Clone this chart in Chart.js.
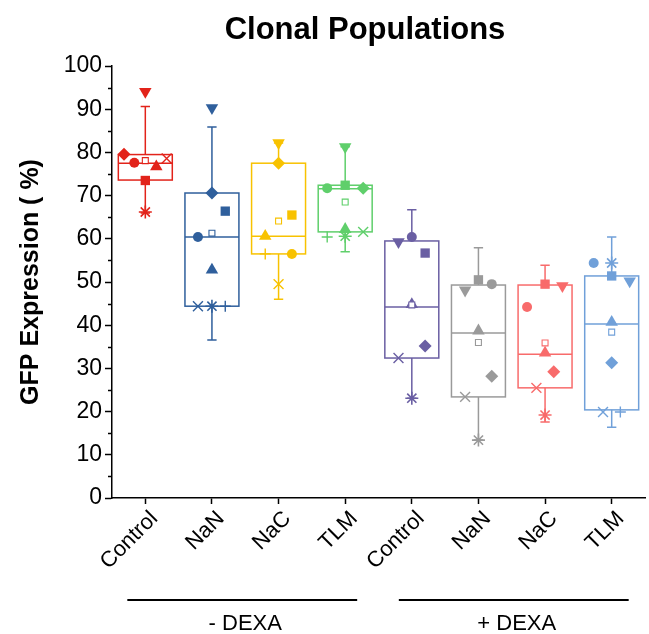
<!DOCTYPE html>
<html><head><meta charset="utf-8">
<script src="https://cdn.jsdelivr.net/npm/chart.js@4"></script>
<style>html,body{margin:0;padding:0;background:#fff}#wrap{width:649px;height:634px;position:relative}</style>
</head><body><div id="wrap"><canvas id="c"></canvas></div>
<script>
// ---------- data ----------
const categories = ['Control','NaN','NaC','TLM','Control','NaN','NaC','TLM'];
const groupLabels = ['- DEXA','+ DEXA'];
const groupFirst = [0,4];
const groupLast = [3,7];
const chartTitle = 'Clonal Populations';
const yTitle = 'GFP Expression ( %)';
const yMin = 0, yMax = 100, yStep = 10;

// box statistics per category
const q1          = [73.6,44.4,56.5,61.6,32.4,23.4,25.5,20.4];
const median      = [77.5,60.4,60.6,71.6,44.2,38.2,33.3,40.3];
const q3          = [79.5,70.6,77.5,72.4,59.5,49.3,49.3,51.4];
const whiskerLow  = [66.0,36.6,46.0,57.0,23.1,13.4,17.6,16.4];
const whiskerHigh = [90.6,85.9,82.2,81.3,66.7,57.9,53.9,60.4];
const meanValue   = [78.1,61.3,64.1,68.5,44.7,36.0,35.9,38.4];

// individual clones (one marker each) per category
const cloneSquare  = [73.5,66.4,65.5,72.4,56.7,50.5,49.5,51.4];
const cloneCircle  = [77.6,60.4,56.5,71.7,60.4,49.5,44.2,54.4];
const cloneUp      = [76.7,52.8,60.6,62.2,44.8,38.7,33.6,40.7];
const cloneDown    = [94.1,90.3,82.2,81.3,59.3,48.1,49.1,50.2];
const cloneDiamond = [79.6,70.6,77.5,71.7,35.2,28.2,29.2,31.3];
const clonePlus    = [null,44.4,56.5,60.4,null,null,null,19.9];
const cloneCross   = [78.6,44.4,49.5,61.6,32.4,23.4,25.5,19.9];
const cloneStar    = [66.2,44.4,null,60.6,23.1,13.4,19.2,54.4];

// horizontal spread of overlapping points (category units)
const spreadSquare  = [0,0.2,0.2,0,0.2,0,0,0];
const spreadCircle  = [-0.165,-0.21,0.2,-0.27,0,0.2,-0.27,-0.27];
const spreadUp      = [0.165,0,-0.2,0,0,0,0,0];
const spreadDown    = [0,0,0,0,-0.2,-0.2,0.26,0.27];
const spreadDiamond = [-0.32,0,0,0.27,0.2,0.2,0.13,0];
const spreadPlus    = [0,0.2,-0.2,-0.27,0,0,0,0.13];
const spreadCross   = [0.32,-0.21,0,0.27,-0.2,-0.2,-0.13,-0.13];
const spreadStar    = [0,0,0,0,0,0,0,0];

// ---------- styles ----------
const colors = ['#e2231a','#2f5f9c','#f8c200','#5fcf6b','#6a5fa3','#9a9a9a','#f86b6b','#70a0d9'];
const FONT = "'Liberation Sans', Arial, Helvetica, sans-serif";
Chart.defaults.font.family = FONT;
Chart.defaults.color = '#000';

function pts(values, spread) {
  const out = [];
  values.forEach((v, i) => { if (v !== null) out.push({x: i + spread[i], y: v, g: i}); });
  return out;
}
function markerSet(values, spread, style, radius, opts) {
  return Object.assign({
    type: 'scatter',
    data: pts(values, spread),
    pointStyle: style,
    pointRadius: radius,
    pointHoverRadius: radius,
    pointBackgroundColor: c => colors[c.raw.g],
    pointBorderColor: c => colors[c.raw.g],
    pointBorderWidth: 0,
    showLine: false
  }, opts || {});
}

const datasets = [
  { type:'scatter', data: meanValue.map((v,i)=>({x:i,y:v,g:i})), pointStyle:'rect', pointRadius:4.2,
    pointBackgroundColor:'#fff', pointBorderColor:c=>colors[c.raw.g], pointBorderWidth:1.1, showLine:false },
  markerSet(cloneSquare, spreadSquare, 'rect', 6.6),
  markerSet(cloneCircle, spreadCircle, 'circle', 5),
  markerSet(cloneUp, spreadUp, 'triangle', 7.2),
  markerSet(cloneDown, spreadDown, 'triangle', 7.2, {pointRotation:180}),
  markerSet(cloneDiamond, spreadDiamond, 'rectRot', 6.5),
  markerSet(clonePlus, spreadPlus, 'cross', 5.5, {pointBorderWidth:1.4}),
  markerSet(cloneCross, spreadCross, 'crossRot', 7, {pointBorderWidth:1.4}),
  markerSet(cloneStar, spreadStar, 'star', 6.5, {pointBorderWidth:1.6})
];

const boxPlugin = {
  id: 'boxes',
  beforeDatasetsDraw(chart) {
    const ctx = chart.ctx, xs = chart.scales.x, ys = chart.scales.y;
    ctx.save();
    ctx.lineWidth = 1.5;
    categories.forEach((_, i) => {
      const cx = xs.getPixelForValue(i);
      const hw = xs.getPixelForValue(i + 0.405) - cx;
      const cw = xs.getPixelForValue(i + 0.07) - cx;
      const yq1 = ys.getPixelForValue(q1[i]), yq3 = ys.getPixelForValue(q3[i]);
      const ymed = ys.getPixelForValue(median[i]);
      const ylo = ys.getPixelForValue(whiskerLow[i]), yhi = ys.getPixelForValue(whiskerHigh[i]);
      ctx.strokeStyle = colors[i];
      ctx.beginPath();
      ctx.moveTo(cx, yq3); ctx.lineTo(cx, yhi);
      ctx.moveTo(cx - cw, yhi); ctx.lineTo(cx + cw, yhi);
      ctx.moveTo(cx, yq1); ctx.lineTo(cx, ylo);
      ctx.moveTo(cx - cw, ylo); ctx.lineTo(cx + cw, ylo);
      ctx.stroke();
      ctx.strokeRect(cx - hw, yq3, 2 * hw, yq1 - yq3);
      ctx.beginPath();
      ctx.moveTo(cx - hw, ymed); ctx.lineTo(cx + hw, ymed);
      ctx.stroke();
    });
    ctx.restore();
  },
  afterDraw(chart) {
    const ctx = chart.ctx, xs = chart.scales.x, ys = chart.scales.y, ca = chart.chartArea;
    ctx.save();
    // minor y ticks
    ctx.strokeStyle = '#000'; ctx.lineWidth = 1.3;
    ctx.beginPath();
    for (let v = yMin + yStep / 2; v < yMax; v += yStep) {
      const y = Math.round(ys.getPixelForValue(v)) + 0.5;
      ctx.moveTo(ca.left - 4, y); ctx.lineTo(ca.left, y);
    }
    ctx.stroke();
    // title
    ctx.fillStyle = '#000';
    ctx.font = 'bold 31px ' + FONT;
    ctx.textAlign = 'center'; ctx.textBaseline = 'alphabetic';
    ctx.fillText(chartTitle, 365, 39);
    // group bars and labels
    ctx.font = '22px ' + FONT;
    groupLabels.forEach((lab, k) => {
      const mid = xs.getPixelForValue((groupFirst[k] + groupLast[k]) / 2) + (k === 0 ? -3 : 2);
      const half = xs.getPixelForValue(groupLast[k] + 0.225) - xs.getPixelForValue((groupFirst[k] + groupLast[k]) / 2);
      ctx.lineWidth = 2.2;
      ctx.beginPath(); ctx.moveTo(mid - half, 600); ctx.lineTo(mid + half, 600); ctx.stroke();
      ctx.fillText(lab, mid + 3, 630);
    });
    ctx.restore();
  }
};

new Chart(document.getElementById('c'), {
  data: { datasets },
  options: {
    responsive: true,
    maintainAspectRatio: false,
    animation: false,
    events: [],
    layout: { autoPadding: false, padding: { top: 66, right: 4, left: 0, bottom: 0 } },
    plugins: { legend: { display: false }, tooltip: { enabled: false }, title: { display: false } },
    scales: {
      x: {
        type: 'linear', min: -0.5, max: categories.length - 0.5,
        afterBuildTicks: s => { s.ticks = categories.map((_, i) => ({ value: i })); },
        afterFit: s => { s.height = 136; s.paddingRight = 0; },
        border: { display: true, color: '#000', width: 1.5 },
        grid: { drawOnChartArea: false, drawTicks: true, tickLength: 6, color: '#000', tickWidth: 1.5 },
        ticks: {
          autoSkip: false, minRotation: 45, maxRotation: 45, padding: 2, labelOffset: 9,
          font: { size: 22 }, color: '#000',
          callback: v => categories[v]
        }
      },
      y: {
        min: yMin, max: yMax,
        afterFit: s => { s.width = 112; },
        border: { display: true, color: '#000', width: 1.5 },
        grid: { drawOnChartArea: false, drawTicks: true, tickLength: 7, color: '#000', tickWidth: 1.5 },
        ticks: { stepSize: yStep, padding: 3, font: { size: 23 }, color: '#000' },
        title: { display: true, text: yTitle, font: { size: 25, weight: 'bold' }, color: '#000', padding: { top: 16, bottom: 0 } }
      }
    }
  },
  plugins: [boxPlugin]
});
</script>
</body></html>
